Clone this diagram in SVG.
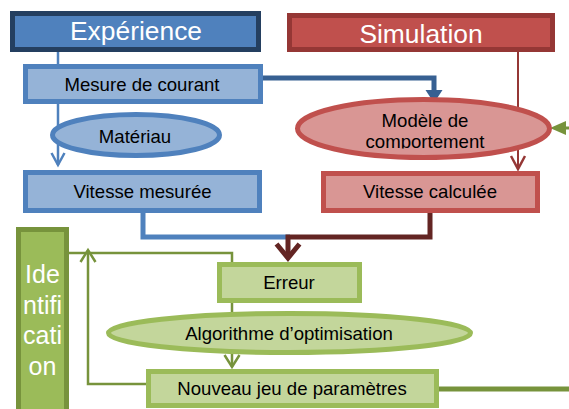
<svg xmlns="http://www.w3.org/2000/svg" width="569" height="409" viewBox="0 0 569 409">
<style>
  .t { font-family: "Liberation Sans", Arial, sans-serif; font-size: 18.6px; fill: #000; text-anchor: middle; }
  .big { font-family: "Liberation Sans", Arial, sans-serif; font-size: 26.4px; fill: #fff; text-anchor: middle; }
  .idt { font-family: "Liberation Sans", Arial, sans-serif; font-size: 25px; fill: #fff; text-anchor: middle; }
  .blue { fill: #95B3D7; stroke: #4F81BD; stroke-width: 5; }
  .pink { fill: #D99694; stroke: #C0504D; stroke-width: 5; }
  .green { fill: #C3D69B; stroke: #9BBB59; stroke-width: 5; }
  .c { fill: none; }
</style>
<defs>
  <marker id="aBlue" markerUnits="userSpaceOnUse" orient="auto" overflow="visible" markerWidth="1" markerHeight="1">
    <path d="M-12,-6.5 L0,0 L-12,6.5" fill="none" stroke="#4F81BD" stroke-width="2.5"/>
  </marker>
  <marker id="aRed" markerUnits="userSpaceOnUse" orient="auto" overflow="visible" markerWidth="1" markerHeight="1">
    <path d="M-13,-7 L0,0 L-13,7" fill="none" stroke="#953735" stroke-width="2.5"/>
  </marker>
  <marker id="aGreen" markerUnits="userSpaceOnUse" orient="auto" overflow="visible" markerWidth="1" markerHeight="1">
    <path d="M-12,-7.5 L0,0 L-12,7.5" fill="none" stroke="#77933C" stroke-width="2.5"/>
  </marker>
  <marker id="aDark" markerUnits="userSpaceOnUse" orient="auto" overflow="visible" markerWidth="1" markerHeight="1">
    <path d="M-14,-11.5 L0,0 L-14,11.5" fill="none" stroke="#632523" stroke-width="5"/>
  </marker>
  <marker id="aNavy" markerUnits="userSpaceOnUse" orient="auto" overflow="visible" markerWidth="1" markerHeight="1">
    <path d="M0,-8.5 L13,0 L0,8.5 Z" fill="#376092"/>
  </marker>
  <marker id="aGreenF" markerUnits="userSpaceOnUse" orient="auto" overflow="visible" markerWidth="1" markerHeight="1">
    <path d="M0,-7 L16,0 L0,7 Z" fill="#77933C"/>
  </marker>
  <clipPath id="clipComp"><rect x="290" y="95" width="270" height="53.5"/></clipPath>
</defs>

<g id="connectors">
  <line class="c" x1="58" y1="52" x2="58" y2="66" stroke="#4F81BD" stroke-width="2.5"/>
  <line class="c" x1="58" y1="104" x2="58" y2="165" stroke="#4F81BD" stroke-width="2.5" marker-end="url(#aBlue)"/>
  <path class="c" d="M263,78 H434 V90" stroke="#376092" stroke-width="5" marker-end="url(#aNavy)"/>
  <line class="c" x1="518" y1="52" x2="518" y2="169" stroke="#953735" stroke-width="2" marker-end="url(#aRed)"/>
  <path class="c" d="M143,212 V237 H290" stroke="#4F81BD" stroke-width="5"/>
  <path class="c" d="M430,212 V237 H288 V258" stroke="#632523" stroke-width="5" marker-end="url(#aDark)"/>
  <path class="c" d="M68,253 H232 V263" stroke="#77933C" stroke-width="2.5"/>
  <line class="c" x1="232" y1="302" x2="232" y2="367" stroke="#77933C" stroke-width="2.5" marker-end="url(#aGreen)"/>
  <path class="c" d="M147,384 H88 V250" stroke="#77933C" stroke-width="2.5" marker-end="url(#aGreen)"/>
  <line class="c" x1="438" y1="389" x2="569" y2="389" stroke="#77933C" stroke-width="5"/>
  <line class="c" x1="569" y1="128" x2="566" y2="128" stroke="#77933C" stroke-width="3" marker-end="url(#aGreenF)"/>
</g>

<g id="experience">
  <rect x="12.5" y="13.5" width="246" height="36" fill="#4F81BD" stroke="#243F60" stroke-width="5"/>
  <text class="big" x="136" y="40">Expérience</text>
</g>
<g id="simulation">
  <rect x="289.5" y="15.5" width="263" height="34" fill="#C0504D" stroke="#953735" stroke-width="5"/>
  <text class="big" x="421" y="43">Simulation</text>
</g>
<g id="mesure">
  <rect class="blue" x="25.5" y="66.5" width="235" height="35"/>
  <text class="t" x="142" y="91">Mesure de courant</text>
</g>
<g id="materiau">
  <ellipse class="blue" cx="136" cy="135" rx="83.5" ry="20.5"/>
  <text class="t" x="135" y="143">Matériau</text>
</g>
<g id="modele">
  <ellipse cx="423.5" cy="128.5" rx="126" ry="29" fill="#D99694"/>
  <text class="t" x="425" y="127">Modèle de</text>
  <text class="t" x="425" y="148" clip-path="url(#clipComp)">comportement</text>
  <ellipse cx="423.5" cy="128.5" rx="126" ry="29" fill="none" stroke="#C0504D" stroke-width="5"/>
</g>
<g id="vitesse-mesuree">
  <rect class="blue" x="25.5" y="172.5" width="234" height="38"/>
  <text class="t" x="142.5" y="198">Vitesse mesurée</text>
</g>
<g id="vitesse-calculee">
  <rect class="pink" x="323.5" y="173.5" width="214" height="37"/>
  <text class="t" x="430" y="198">Vitesse calculée</text>
</g>
<g id="identification">
  <rect x="18.5" y="229.5" width="48" height="200" fill="#9BBB59" stroke="#77933C" stroke-width="5"/>
  <text class="idt" x="42.5" y="283">Ide</text>
  <text class="idt" x="42.5" y="314">ntifi</text>
  <text class="idt" x="42.5" y="344">cati</text>
  <text class="idt" x="42.5" y="375">on</text>
</g>
<g id="erreur">
  <rect class="green" x="219.5" y="264.5" width="140" height="36"/>
  <text class="t" x="289" y="289">Erreur</text>
</g>
<g id="algorithme">
  <ellipse class="green" cx="289.5" cy="333" rx="181" ry="19.5"/>
  <text class="t" x="289" y="340">Algorithme d’optimisation</text>
</g>
<g id="nouveau">
  <rect class="green" x="148.5" y="371.5" width="288" height="34"/>
  <text class="t" x="292" y="395">Nouveau jeu de paramètres</text>
</g>
</svg>
